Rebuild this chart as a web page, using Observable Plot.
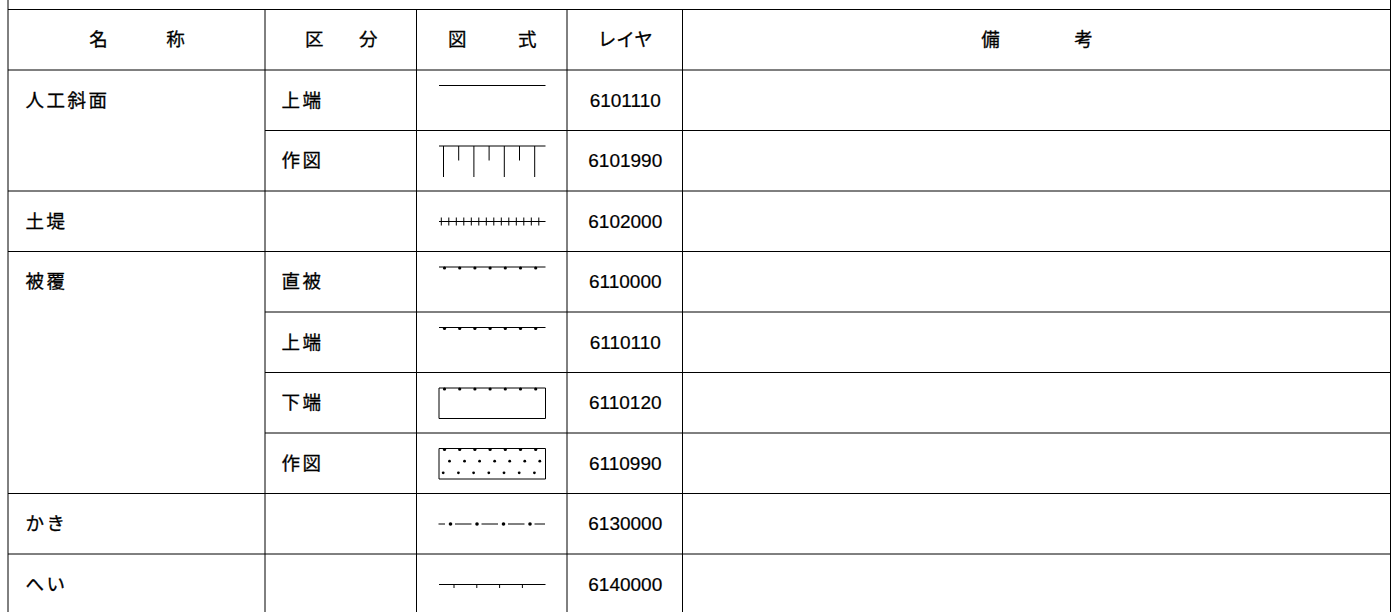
<!DOCTYPE html>
<html>
<head>
<meta charset="utf-8">
<script src="https://cdn.jsdelivr.net/npm/d3@7"></script>
<script src="https://cdn.jsdelivr.net/npm/@observablehq/plot@0.6"></script>
<style>
html, body { margin: 0; padding: 0; background: #fff; }
#chart svg { display: block; }
</style>
</head>
<body>
<div id="chart"></div>
<script>
// ---------------- data ----------------
const headers = ["名称", "区分", "図式", "レイヤ", "備考"];
const names   = ["人工斜面", "", "土堤", "被覆", "", "", "", "かき", "へい"];
const kubun   = ["上端", "作図", "", "直被", "上端", "下端", "作図", "", ""];
const symbols = ["line", "slope", "embank", "cover", "cover", "coverRect", "coverDots", "fence", "wall"];
const layers  = ["6101110", "6101990", "6102000", "6110000", "6110110", "6110120", "6110990", "6130000", "6140000"];
const remarks = ["", "", "", "", "", "", "", "", ""];

// ---------------- layout ----------------
const W = 1396, H = 612;
const colX = [8, 265, 416.5, 567, 682.5, 1390.5];
const top0 = 9.5, rowH = 60.5;
const headerSpread = [77, 54, 70, 0, 93];
const jpFont = "Noto Sans CJK JP";
const numFont = "Liberation Sans";
const textWeight = 400;
const nudge = 0.5; // Plot shifts rules by half a pixel at DPR 1
const rowTop = i => top0 + (i + 1) * rowH;
const n = names.length;
const rows = names.map((name, i) => ({i, name, kubun: kubun[i], symbol: symbols[i], layer: layers[i], remark: remarks[i]}));

// grid lines
const hlines = [{y: top0, x1: colX[0], x2: colX[5]}, {y: top0 + rowH, x1: colX[0], x2: colX[5]}];
rows.forEach(r => {
  const groupEnd = r.i === n - 1 || names[r.i + 1] !== "";
  hlines.push({y: rowTop(r.i) + rowH, x1: groupEnd ? colX[0] : colX[1], x2: colX[5]});
});
const vlines = colX.map((x, k) => ({x, y1: (k === 0 || k === colX.length - 1) ? 0 : top0, y2: H + 10}));

// header labels
const headerItems = [];
headers.forEach((h, k) => {
  const cx = (colX[k] + colX[k + 1]) / 2, cy = top0 + rowH / 2;
  const s = headerSpread[k];
  if (s === 0) headerItems.push({x: cx, y: cy, t: h});
  else [...h].forEach((ch, j, arr) => headerItems.push({x: cx - s / 2 + j * s / (arr.length - 1), y: cy, t: ch}));
});

// symbols (legend glyphs drawn inside the 図式 cell)
const segs = [], dots = [], dashed = [];
const sx0 = colX[2] + 22, sx1 = colX[3] - 22;
rows.forEach(r => {
  const t = rowTop(r.i);
  const yTop = t + 15, yBot = t + 45.5, yMid = t + 30;
  const hline = y => segs.push({x1: sx0, y1: y, x2: sx1, y2: y});
  switch (r.symbol) {
    case "line": hline(yTop); break;
    case "slope":
      hline(yTop);
      for (let k = 0; k < 7; k++) {
        const x = sx0 + 4.5 + k * 15.2;
        segs.push({x1: x, y1: yTop, x2: x, y2: yTop + (k % 2 === 0 ? 31 : 14.5)});
      }
      break;
    case "embank":
      hline(yMid);
      for (let k = 0; k < 14; k++) {
        const x = sx0 + 2.3 + k * 7.5;
        segs.push({x1: x, y1: yMid - 4, x2: x, y2: yMid + 4});
      }
      break;
    case "cover":
    case "coverRect":
    case "coverDots":
      hline(yTop);
      for (let k = 0; k < 7; k++) dots.push({x: sx0 + 5.5 + k * 15.2, y: yTop + 1, r: 1.6});
      if (r.symbol !== "cover") {
        hline(yBot);
        segs.push({x1: sx0, y1: yTop, x2: sx0, y2: yBot});
        segs.push({x1: sx1, y1: yTop, x2: sx1, y2: yBot});
      }
      if (r.symbol === "coverDots") {
        for (let k = 0; k < 7; k++) dots.push({x: sx0 + 10.5 + k * 15.05, y: t + 27.7, r: 1.4});
        for (let k = 0; k < 7; k++) dots.push({x: sx0 + 4.2 + k * 15.2, y: t + 39.3, r: 1.4});
      }
      break;
    case "fence":
      dashed.push({x1: sx0, x2: sx1, y: yMid});
      for (let k = 0; k < 4; k++) dots.push({x: sx0 + 11.5 + k * 26.5, y: yMid, r: 1.8});
      break;
    case "wall":
      hline(yMid);
      for (let k = 0; k < 4; k++) {
        const x = sx0 + 15 + k * 22.8;
        segs.push({x1: x, y1: yMid, x2: x, y2: yMid + 3.5});
      }
      break;
  }
});

const jpText = {fontSize: 18.5, fontWeight: textWeight, fontFamily: jpFont, fill: "#000", stroke: "#000", strokeWidth: 0.3};
const plot = Plot.plot({
  width: W,
  height: H,
  margin: 0,
  x: {domain: [0, W], range: [0, W], axis: null},
  y: {domain: [0, H], range: [0, H], axis: null},
  r: {type: "identity"},
  style: {background: "#fff", color: "#000", overflow: "visible"},
  marks: [
    Plot.ruleY(hlines, {y: d => d.y - nudge, x1: "x1", x2: "x2", stroke: "#000", strokeWidth: 1}),
    Plot.ruleX(vlines, {x: d => d.x - nudge, y1: "y1", y2: "y2", stroke: "#000", strokeWidth: 1}),
    Plot.link(segs, {x1: "x1", y1: "y1", x2: "x2", y2: "y2", stroke: "#000", strokeWidth: 1}),
    Plot.ruleY(dashed, {y: "y", x1: "x1", x2: "x2", stroke: "#000", strokeWidth: 1, strokeDasharray: "16.5 10", strokeDashoffset: 10}),
    Plot.dot(dots, {x: "x", y: "y", r: "r", fill: "#000", stroke: "none"}),
    Plot.text(headerItems, {x: "x", y: "y", text: "t", textAnchor: "middle", ...jpText}),
    Plot.text(rows.filter(r => r.name), {x: () => colX[0] + 17, y: r => rowTop(r.i) + rowH / 2, text: "name", textAnchor: "start", ...jpText}),
    Plot.text(rows.filter(r => r.kubun), {x: () => colX[1] + 16, y: r => rowTop(r.i) + rowH / 2, text: "kubun", textAnchor: "start", ...jpText}),
    Plot.text(rows, {x: () => (colX[3] + colX[4]) / 2, y: r => rowTop(r.i) + rowH / 2, text: "layer", fontSize: 19, fontFamily: numFont, textAnchor: "middle", fill: "#000", stroke: "#000", strokeWidth: 0.2}),
    Plot.text(rows.filter(r => r.remark), {x: () => colX[4] + 16, y: r => rowTop(r.i) + rowH / 2, text: "remark", textAnchor: "start", ...jpText})
  ]
});
d3.select(plot).selectAll(`g[font-family="${jpFont}"][text-anchor="start"] text`).style("letter-spacing", "2.5px");
document.getElementById("chart").appendChild(plot);
</script>
</body>
</html>
